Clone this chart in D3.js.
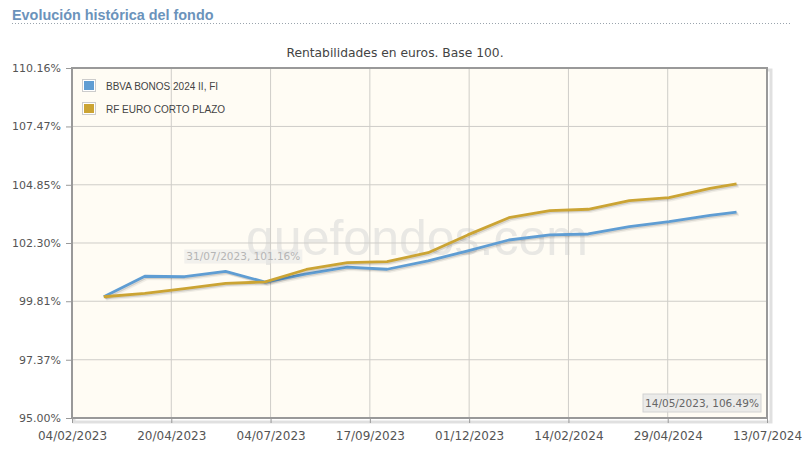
<!DOCTYPE html>
<html>
<head>
<meta charset="utf-8">
<script src="https://cdn.jsdelivr.net/npm/d3@7"></script>
<style>
    body { margin: 0; background: #fff; }
    svg { display: block; }
</style>
</head>
<body>
<div id="chart"></div>
<script>
// monthly values, base 100
const dates = ["2023-02-28", "2023-03-31", "2023-04-30", "2023-05-31", "2023-06-30", "2023-07-31",
    "2023-08-31", "2023-09-30", "2023-10-31", "2023-11-30", "2023-12-31", "2024-01-31",
    "2024-02-29", "2024-03-31", "2024-04-30", "2024-05-31", "2024-06-20"];
const bbvaBonos = [100.00, 100.87, 100.85, 101.08, 100.62, 100.97, 101.26, 101.17, 101.53, 101.96,
    102.43, 102.65, 102.69, 103.01, 103.23, 103.50, 103.64];
const rfEuroCorto = [100.00, 100.14, 100.34, 100.57, 100.63, 101.16, 101.45, 101.50, 101.88, 102.65,
    103.40, 103.71, 103.77, 104.15, 104.28, 104.69, 104.89];
const seriesNames = ["BBVA BONOS 2024 II, FI", "RF EURO CORTO PLAZO"];
const seriesColors = ["#5f9dd3", "#cba434"];
const xTickLabels = ["04/02/2023", "20/04/2023", "04/07/2023", "17/09/2023", "01/12/2023",
    "14/02/2024", "29/04/2024", "13/07/2024"];
const yTickValues = [95.00, 97.37, 99.81, 102.30, 104.85, 107.47, 110.16];

const W = 802, H = 453;
const margin = {top: 68, right: 35, bottom: 35, left: 72};
const width = W - margin.left - margin.right,
    height = H - margin.top - margin.bottom;

const parseIso = d3.timeParse("%Y-%m-%d");
const parseTick = d3.timeParse("%d/%m/%Y");
const tickDates = xTickLabels.map(parseTick);

const svg = d3.select("#chart").append("svg")
    .attr("width", W)
    .attr("height", H);

// page heading
svg.append("text")
    .attr("x", 12).attr("y", 19.5)
    .style("font-family", "Liberation Sans, Arial, sans-serif")
    .style("font-size", "14.4px")
    .style("font-weight", "bold")
    .style("fill", "#6b93bb")
    .text("Evolución histórica del fondo");
svg.append("line")
    .attr("x1", 12).attr("x2", 792)
    .attr("y1", 23.5).attr("y2", 23.5)
    .attr("stroke", "#9aa4ad")
    .attr("stroke-dasharray", "1,2");

svg.append("text")
    .attr("x", 395).attr("y", 56.5)
    .attr("text-anchor", "middle")
    .style("font-family", "DejaVu Sans, Verdana, sans-serif")
    .style("font-size", "12.3px")
    .style("fill", "#444")
    .text("Rentabilidades en euros. Base 100.");

let x = d3.scaleTime()
    .domain(d3.extent(tickDates))
    .range([0, width]);
let y = d3.scaleLog()
    .domain([yTickValues[0], yTickValues[yTickValues.length - 1]])
    .range([height, 0]);

let g = svg.append("g")
    .attr("transform", "translate(" + margin.left + "," + margin.top + ")");

// frame shadow
g.append("rect")
    .attr("x", 2).attr("y", 2)
    .attr("width", width + 2).attr("height", height + 2)
    .attr("fill", "none")
    .attr("stroke", "#000").attr("stroke-opacity", 0.12)
    .attr("stroke-width", 3);

g.append("rect")
    .attr("width", width).attr("height", height)
    .attr("fill", "#fffcf4");

// watermark
g.append("text")
    .attr("x", 345).attr("y", 187)
    .attr("text-anchor", "middle")
    .style("font-family", "Liberation Sans, Arial, sans-serif")
    .style("font-size", "50px")
    .style("fill", "#e9e8e4")
    .text("quefondos.com");

// grid
g.append("g").selectAll("line")
    .data(tickDates)
    .join("line")
    .attr("x1", d => x(d)).attr("x2", d => x(d))
    .attr("y1", 0).attr("y2", height)
    .attr("stroke", "#cfcdc8");
g.append("g").selectAll("line")
    .data(yTickValues)
    .join("line")
    .attr("x1", 0).attr("x2", width)
    .attr("y1", d => y(d)).attr("y2", d => y(d))
    .attr("stroke", "#cfcdc8");

// axes
let yAxis = g.append("g")
    .call(d3.axisLeft(y).tickValues(yTickValues).tickSize(6).tickPadding(5)
        .tickFormat(d => d.toFixed(2) + "%"));
let xAxis = g.append("g")
    .attr("transform", "translate(0," + height + ")")
    .call(d3.axisBottom(x).tickValues(tickDates).tickSize(5).tickPadding(8)
        .tickFormat(d3.timeFormat("%d/%m/%Y")));
[yAxis, xAxis].forEach(a => {
    a.select(".domain").remove();
    a.selectAll(".tick line").attr("stroke", "#999");
    a.selectAll("text")
        .style("font-family", "DejaVu Sans, Verdana, sans-serif")
        .style("fill", "#555");
});
yAxis.selectAll("text").style("font-size", "11px");
xAxis.selectAll("text").style("font-size", "12px");

// lines
const line = d3.line()
    .x(d => x(d.date))
    .y(d => y(d.value));
const series = [bbvaBonos, rfEuroCorto].map((vals, i) => ({
    name: seriesNames[i],
    color: seriesColors[i],
    values: vals.map((v, j) => ({date: parseIso(dates[j]), value: v}))
}));

series.forEach(s => {
    [[1.2, 0.12], [2.4, 0.06]].forEach(([off, op]) => {
        g.append("path")
            .datum(s.values)
            .attr("transform", "translate(" + off + "," + off + ")")
            .attr("fill", "none")
            .attr("stroke", "#000")
            .attr("stroke-opacity", op)
            .attr("stroke-width", 2.8)
            .attr("d", line);
    });
    g.append("path")
        .datum(s.values)
        .attr("fill", "none")
        .attr("stroke", s.color)
        .attr("stroke-width", 2.8)
        .attr("stroke-linejoin", "round")
        .attr("d", line);
});

// frame
g.append("rect")
    .attr("width", width).attr("height", height)
    .attr("fill", "none")
    .attr("stroke", "#999")
    .attr("stroke-width", 2);

// legend
let legend = g.append("g").attr("transform", "translate(10,11)");
series.forEach((s, i) => {
    let row = legend.append("g").attr("transform", "translate(0," + (i * 23) + ")");
    row.append("rect")
        .attr("x", 0.5).attr("y", 0.5)
        .attr("width", 13).attr("height", 12)
        .attr("fill", "#fff").attr("stroke", "#ccc");
    row.append("rect")
        .attr("x", 2).attr("y", 2)
        .attr("width", 10).attr("height", 9)
        .attr("fill", s.color);
    row.append("text")
        .attr("x", 24).attr("y", 10.5)
        .style("font-family", "Liberation Sans, Arial, sans-serif")
        .style("font-size", "10px")
        .style("fill", "#444")
        .text(s.name);
});

// highlighter tooltip near the hovered point
let hov = series[1].values[5];
let tip = g.append("g")
    .attr("transform", "translate(" + (x(hov.date) - 4) + "," + (y(hov.value) - 6) + ")");
tip.append("rect")
    .attr("x", -118).attr("y", -14)
    .attr("width", 118).attr("height", 14)
    .attr("fill", "#e6e6e6").attr("fill-opacity", 0.5);
tip.append("text")
    .attr("x", -59).attr("y", -3)
    .attr("text-anchor", "middle")
    .style("font-family", "DejaVu Sans, Verdana, sans-serif")
    .style("font-size", "10.5px")
    .style("fill", "#b5b5b5")
    .text("31/07/2023, 101.16%");

// cursor tooltip, bottom right
let cur = g.append("g")
    .attr("transform", "translate(" + (width - 6) + "," + (height - 6) + ")");
cur.append("rect")
    .attr("x", -118).attr("y", -18)
    .attr("width", 118).attr("height", 18)
    .attr("fill", "#e8e8e6").attr("fill-opacity", 0.85)
    .attr("stroke", "#d2d2d2");
cur.append("text")
    .attr("x", -59).attr("y", -5)
    .attr("text-anchor", "middle")
    .style("font-family", "DejaVu Sans, Verdana, sans-serif")
    .style("font-size", "10.5px")
    .style("fill", "#666")
    .text("14/05/2023, 106.49%");
</script>
</body>
</html>
